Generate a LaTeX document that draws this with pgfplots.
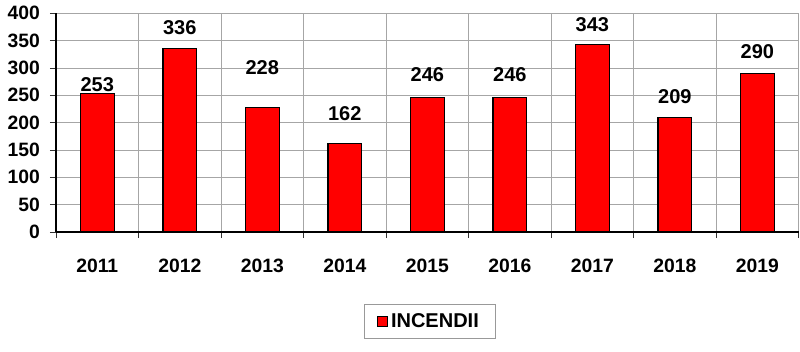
\documentclass[border=0pt]{standalone}
\usepackage{pgfplots}
\pgfplotsset{compat=1.18}
\usepackage{fontspec}
\setmainfont{Liberation Sans}
\begin{document}
\begin{tikzpicture}[x=1pt,y=1pt]
\useasboundingbox (0,0) rectangle (600,263.25);
\begin{axis}[
  at={(42pt,89.25pt)}, anchor=south west,
  scale only axis, width=557pt, height=164pt,
  xmin=-0.5, xmax=8.5, ymin=0, ymax=400,
  ytick={0,50,...,400},
  xtick={0,...,8},
  xticklabels={2011,2012,2013,2014,2015,2016,2017,2018,2019},
  minor xtick={-0.5,0.5,...,8.5},
  axis lines*=left,
  axis line style={black, line width=0.8pt},
  ymajorgrids, xminorgrids,
  grid style={gray!70, line width=0.6pt},
  minor grid style={gray!70, line width=0.6pt},
  major tick length=4.5pt, minor tick length=4.5pt,
  tick align=outside,
  major x tick style={draw=none},
  minor x tick style={draw=black!80, line width=0.6pt},
  ytick style={draw=black!80, line width=0.6pt},
  /pgf/number format/assume math mode=true,
  tick label style={font=\fontsize{14.5}{17}\selectfont\bfseries},
  yticklabel style={xshift=-4pt},
  xticklabel style={yshift=-12pt},
  bar width=0.41,
  legend style={at={(0.5027,-0.409)}, anchor=center, draw=gray!80,
    font=\fontsize{15}{18}\selectfont\bfseries, inner xsep=10pt, inner ysep=5pt,
    legend cell align=left},
  legend image code/.code={\draw[fill=red, draw=black, line width=0.8pt] (0pt,-3.8pt) rectangle (7.6pt,3.8pt);},
]
\addplot[ybar, fill=red, draw=black, line width=1pt] coordinates {
 (0,253) (1,336) (2,228) (3,162) (4,246) (5,246) (6,343) (7,209) (8,290)};
\addlegendentry{INCENDII}
\addplot[draw=none, mark=none, nodes near coords, point meta=explicit,
  nodes near coords align={center},
  every node near coord/.style={font=\fontsize{15}{18}\selectfont\bfseries, anchor=center}]
  table[meta=v] {
x y v
0 270 253
1 373 336
2 300 228
3 217 162
4 287 246
5 287 246
6 380 343
7 248 209
8 330 290
};
\end{axis}
\end{tikzpicture}
\end{document}
